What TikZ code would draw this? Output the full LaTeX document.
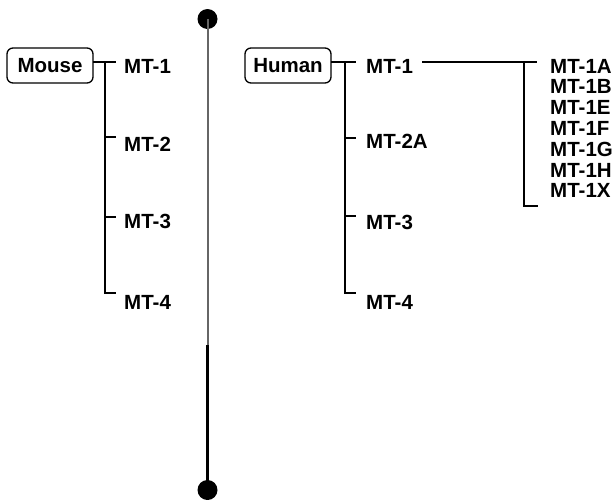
\documentclass[tikz,border=0pt]{standalone}
\usepackage{fontspec}
\setmainfont{Liberation Sans}
\begin{document}
\begin{tikzpicture}[x=1pt,y=-1pt,
  lbl/.style={font=\bfseries\fontsize{20.5}{20.5}\selectfont, anchor=base west, inner sep=0pt},
  species/.style={draw, line width=1.3pt, rounded corners=6pt, minimum width=86pt,
    minimum height=35pt, inner sep=0pt, text depth=0pt, font=\bfseries\fontsize{20.5}{20.5}\selectfont},
  branch/.style={line width=1.7pt, line cap=rect},
  stem/.style={line width=2pt, draw=black!60},
  stemlow/.style={line width=2.1pt},
  bead/.style={circle, fill=black, inner sep=0pt, minimum size=20pt}]
\useasboundingbox (0,0) rectangle (614,499);

% central divider with end beads
\node[bead] (top) at (207.5,19) {};
\node[bead] (bot) at (207.5,490) {};
\coordinate (mid) at (207.5,345);
\draw[stem] (top.center) -- (mid);
\draw[stemlow] (mid) -- (bot.center);

% ---------- Mouse ----------
\node[species] (mouse) at (50,65.5) {Mouse};
\node[lbl] (m1) at (124,73) {MT-1};
\node[lbl] (m2) at (124,151) {MT-2};
\node[lbl] (m3) at (124,228) {MT-3};
\node[lbl] (m4) at (124,309) {MT-4};
\coordinate (mt1) at (115,62);
\coordinate (mt2) at (115,137);
\coordinate (mt3) at (115,217);
\coordinate (mt4) at (115,293);
\coordinate (mtrunk) at (105,62);
\draw[branch] (mouse.east |- mt1) -- (mt1);
\draw[branch] (mtrunk) |- (mt4);
\draw[branch] (mtrunk |- mt2) -- (mt2);
\draw[branch] (mtrunk |- mt3) -- (mt3);

% ---------- Human ----------
\node[species] (human) at (288,65.5) {Human};
\node[lbl] (h1) at (366,73) {MT-1};
\node[lbl] (h2) at (366,148) {MT-2A};
\node[lbl] (h3) at (366,229) {MT-3};
\node[lbl] (h4) at (366,309) {MT-4};
\coordinate (ht1) at (355,62);
\coordinate (ht2) at (355,138);
\coordinate (ht3) at (355,216);
\coordinate (ht4) at (355,293);
\coordinate (htrunk) at (345,62);
\draw[branch] (human.east |- ht1) -- (ht1);
\draw[branch] (htrunk) |- (ht4);
\draw[branch] (htrunk |- ht2) -- (ht2);
\draw[branch] (htrunk |- ht3) -- (ht3);

% ---------- MT-1 isoforms ----------
\coordinate (s0) at (423,62);
\coordinate (stop) at (536,62);
\coordinate (strunk) at (524,62);
\coordinate (sbot) at (537,206);
\draw[branch] (s0) -- (stop);
\draw[branch] (strunk) |- (sbot);
\foreach \t [count=\i from 0] in {MT-1A,MT-1B,MT-1E,MT-1F,MT-1G,MT-1H,MT-1X}
  \node[lbl] (iso\i) at (550,73+20.8*\i) {\t};
\end{tikzpicture}
\end{document}
